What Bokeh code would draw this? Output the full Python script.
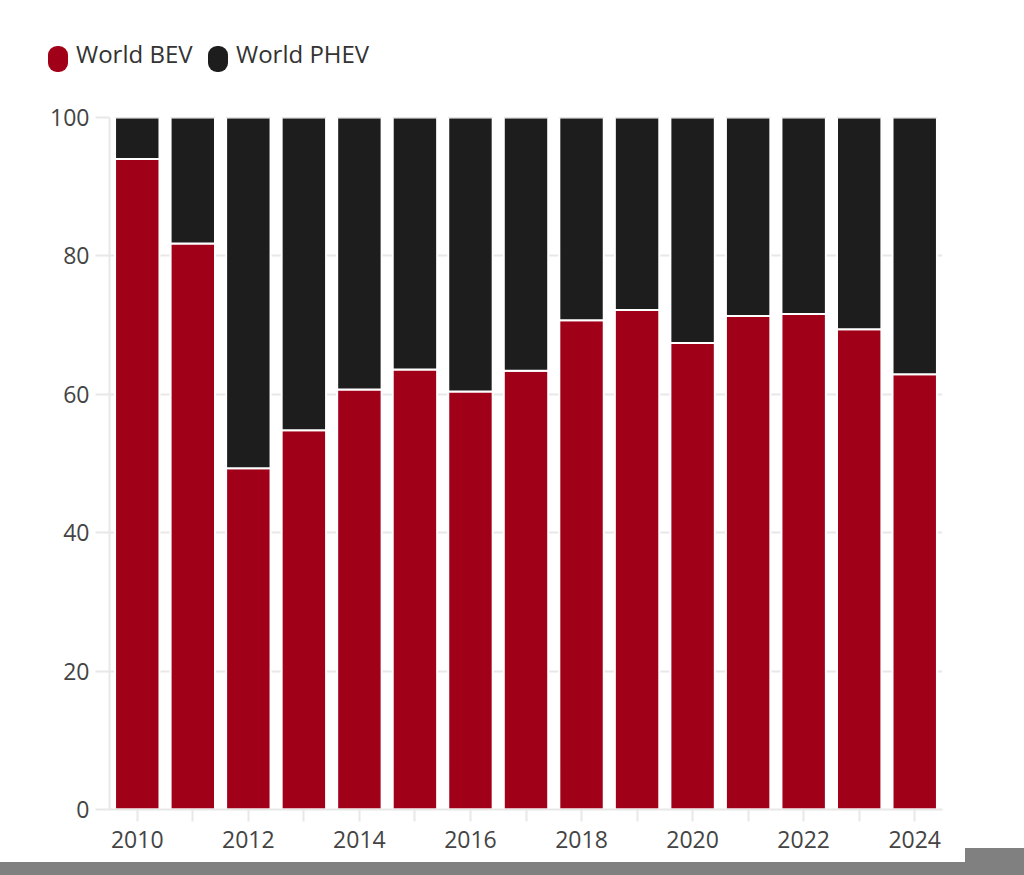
from bokeh.plotting import figure
from bokeh.models import Range1d, FixedTicker, Div
from bokeh.layouts import column
from bokeh.embed import file_html
from bokeh.resources import INLINE

years = [2010, 2011, 2012, 2013, 2014, 2015, 2016, 2017, 2018, 2019, 2020, 2021, 2022, 2023, 2024]
bev = [94.0, 81.8, 49.3, 54.8, 60.7, 63.6, 60.4, 63.4, 70.7, 72.2, 67.4, 71.3, 71.6, 69.4, 62.9]
phev = [6.0, 18.2, 50.7, 45.2, 39.3, 36.4, 39.6, 36.6, 29.3, 27.8, 32.6, 28.7, 28.4, 30.6, 37.1]
y_ticks = [0, 20, 40, 60, 80, 100]
x_labels = {2010: "2010", 2012: "2012", 2014: "2014", 2016: "2016", 2018: "2018",
            2020: "2020", 2022: "2022", 2024: "2024"}
series_names = ["World BEV", "World PHEV"]

RED = "#a10019"
BLACK = "#1e1d1e"
GRID = "#e8e8e8"
TEXT = "#444444"
FONT = "Open Sans"

# ---- legend (HTML, so it can sit left of the plot frame with rounded markers)
colors = [RED, BLACK]
glyph_left = [48, 208]
items = ""
for name, col, gx in zip(series_names, colors, glyph_left):
    items += (f'<div style="position:absolute;left:{gx}px;top:46px;width:20px;height:26px;'
              f'border-radius:9px;background:{col}"></div>'
              f'<div style="position:absolute;left:{gx + 28}px;top:37px;line-height:normal;'
              f'white-space:nowrap">{name}</div>')
legend_html = (f'<div style="position:relative;width:1016px;height:90px;font-family:\'{FONT}\';'
               f'font-size:24px;color:#333333;">{items}</div>')
legend_div = Div(text=legend_html, width=1016, height=90, margin=0)

# ---- main chart
p = figure(width=1016, height=775, output_backend="svg", toolbar_location=None,
           x_range=Range1d(years[0] - 0.5, years[-1] + 0.5), y_range=Range1d(0, 100),
           min_border_left=109, min_border_right=74, min_border_top=27, min_border_bottom=56)
p.outline_line_color = None
p.background_fill_color = "white"

data = {"year": years, "bev": bev, "phev": phev}
p.vbar_stack(["bev", "phev"], x="year", width=0.8, source=data,
             color=[RED, BLACK], line_color="white", line_width=2,
             legend_label=series_names)
p.legend.visible = False

# x axis
p.xaxis.ticker = FixedTicker(ticks=years)
p.xaxis.major_label_overrides = {y: x_labels.get(y, "") for y in years}
p.xaxis.axis_line_color = GRID
p.xaxis.axis_line_width = 2
p.xaxis.major_tick_line_color = GRID
p.xaxis.major_tick_line_width = 2
p.xaxis.major_tick_out = 12
p.xaxis.major_tick_in = 0
p.xaxis.minor_tick_line_color = None
p.xaxis.major_label_standoff = 9
p.xaxis.major_label_text_font = FONT
p.xaxis.major_label_text_font_size = "23px"
p.xaxis.major_label_text_color = TEXT

# y axis
p.yaxis.ticker = FixedTicker(ticks=y_ticks)
p.yaxis.axis_line_color = GRID
p.yaxis.axis_line_width = 2
p.yaxis.major_tick_line_color = GRID
p.yaxis.major_tick_line_width = 2
p.yaxis.major_tick_out = 14
p.yaxis.major_tick_in = 0
p.yaxis.minor_tick_line_color = None
p.yaxis.major_label_standoff = 6
p.yaxis.major_label_text_font = FONT
p.yaxis.major_label_text_font_size = "23px"
p.yaxis.major_label_text_color = TEXT

p.xgrid.grid_line_color = None
p.ygrid.grid_line_color = GRID
p.ygrid.grid_line_width = 2

bar = Div(width=1, height=1, margin=0, text=(
    '<div style="position:fixed;left:0px;top:862px;width:965px;height:13px;background:#808080"></div>'
    '<div style="position:fixed;left:965px;top:848px;width:59px;height:27px;background:#808080"></div>'))

layout = column(legend_div, p, bar)
open("out.html", "w").write(file_html(layout, INLINE))
